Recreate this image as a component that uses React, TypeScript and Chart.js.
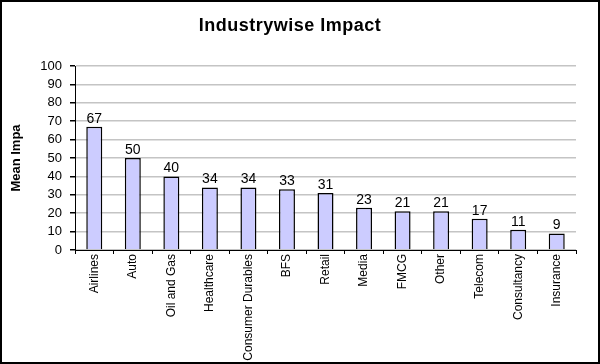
import { useEffect, useRef } from "react";
import { Chart, registerables } from "chart.js";

Chart.register(...registerables);

const chartTitle = "Industrywise Impact";
const yAxisTitle = "Mean Impa";
const categories = [
  "Airlines",
  "Auto",
  "Oil and Gas",
  "Healthcare",
  "Consumer Durables",
  "BFS",
  "Retail",
  "Media",
  "FMCG",
  "Other",
  "Telecom",
  "Consultancy",
  "Insurance",
];
const meanImpact = [67, 50, 40, 34, 34, 33, 31, 23, 21, 21, 17, 11, 9];
const yMin = 0;
const yMax = 100;
const yStep = 10;

const FONT = 'Arial, "Liberation Sans", sans-serif';

const decorPlugin = {
  id: "decor",
  afterDatasetsDraw(chart: any) {
    const ctx = chart.ctx as CanvasRenderingContext2D;
    const meta = chart.getDatasetMeta(0);
    ctx.save();
    ctx.font = `14px ${FONT}`;
    ctx.fillStyle = "#000";
    ctx.textAlign = "center";
    ctx.textBaseline = "alphabetic";
    meta.data.forEach((bar: any, i: number) => {
      ctx.fillText(String(meanImpact[i]), bar.x, bar.y - 4);
    });
    ctx.restore();
  },
  afterDraw(chart: any) {
    const ctx = chart.ctx as CanvasRenderingContext2D;
    ctx.save();
    ctx.font = `bold 18px ${FONT}`;
    ctx.fillStyle = "#000";
    ctx.textAlign = "center";
    ctx.textBaseline = "alphabetic";
    (ctx as any).letterSpacing = "0.5px";
    ctx.fillText(chartTitle, 290, 31);
    ctx.restore();
    ctx.save();
    ctx.strokeStyle = "#000";
    ctx.lineWidth = 2;
    ctx.strokeRect(1, 1, chart.width - 2, chart.height - 2);
    ctx.restore();
  },
};

export default function App() {
  const ref = useRef<HTMLCanvasElement | null>(null);

  useEffect(() => {
    if (!ref.current) return;
    const chart = new Chart(ref.current, {
      type: "bar",
      data: {
        labels: categories,
        datasets: [
          {
            data: meanImpact,
            backgroundColor: "#ccccff",
            borderColor: "#000000",
            borderWidth: 1.5,
            barPercentage: 0.415,
            categoryPercentage: 1,
          },
        ],
      },
      options: {
        animation: false,
        responsive: false,
        events: [],
        layout: { padding: { left: 3, right: 24, top: 66, bottom: 0 } },
        plugins: {
          legend: { display: false },
          tooltip: { enabled: false },
          title: { display: false },
        },
        scales: {
          x: {
            offset: true,
            grid: {
              display: true,
              offset: true,
              drawOnChartArea: false,
              drawTicks: true,
              tickLength: 4,
              tickColor: "#000",
            },
            border: { display: true, color: "#000", width: 1 },
            ticks: {
              autoSkip: false,
              maxRotation: 90,
              minRotation: 90,
              padding: 0,
              color: "#000",
              font: { family: FONT, size: 12 },
            },
            afterFit(scale: any) {
              scale.height = 114;
            },
          },
          y: {
            min: yMin,
            max: yMax,
            grid: {
              color: "#c4c4c4",
              lineWidth: 1.5,
              drawTicks: true,
              tickLength: 5,
              tickColor: "#000",
            },
            border: { display: true, color: "#000", width: 1 },
            ticks: {
              stepSize: yStep,
              autoSkip: false,
              padding: 8,
              color: "#000",
              font: { family: FONT, size: 13 },
            },
            title: {
              display: true,
              text: yAxisTitle,
              color: "#000",
              font: { family: FONT, size: 13, weight: "bold" },
              padding: { top: 6, bottom: 0 },
            },
            afterFit(scale: any) {
              scale.width = 72;
            },
          },
        },
      },
      plugins: [decorPlugin],
    } as any);
    return () => chart.destroy();
  }, []);

  return (
    <div
      style={{
        position: "fixed",
        left: 0,
        top: 0,
        width: 600,
        height: 364,
        background: "#fff",
      }}
    >
      <canvas ref={ref} width={600} height={364} style={{ display: "block" }} />
    </div>
  );
}
